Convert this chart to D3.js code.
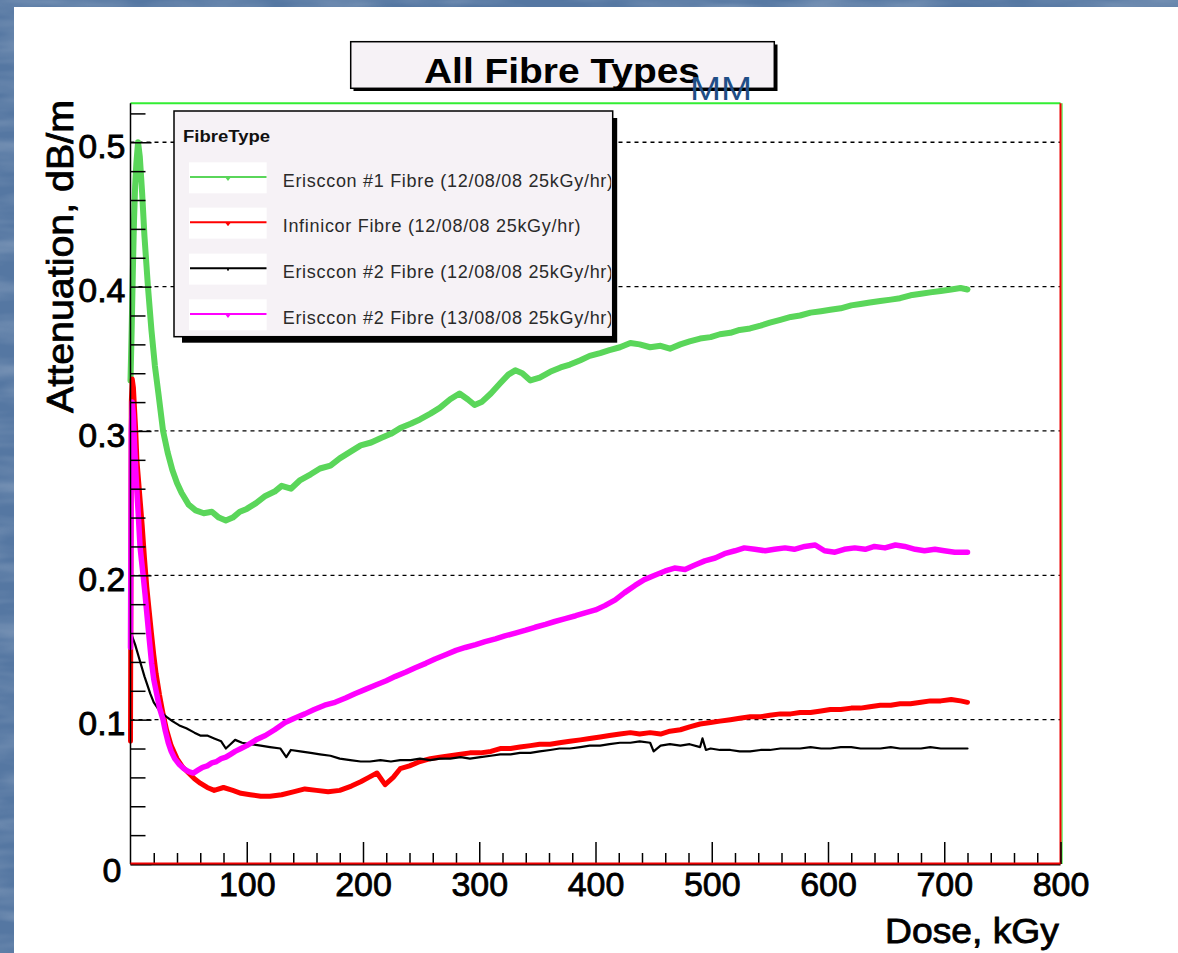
<!DOCTYPE html>
<html><head><meta charset="utf-8">
<script src="https://cdn.jsdelivr.net/npm/d3@7"></script>
<style>
html,body{margin:0;padding:0;background:#fff;}
svg{display:block;font-family:"Liberation Sans",Arial,Helvetica,sans-serif;}
</style></head>
<body><svg id="c" width="1178" height="953"></svg>
<script>
// ---------------- DATA ----------------
const chartTitle = "All Fibre Types";
const overlayText = "MM";
const xTitle = "Dose, kGy";
const yTitle = "Attenuation, dB/m";
const legendTitle = "FibreType";
const seriesNames = [
  "Erisccon #1 Fibre (12/08/08 25kGy/hr)",
  "Infinicor Fibre (12/08/08 25kGy/hr)",
  "Erisccon #2 Fibre (12/08/08 25kGy/hr)",
  "Erisccon #2 Fibre (13/08/08 25kGy/hr)"
];
const seriesColors = ["#5ad65a", "#ff0000", "#000000", "#ff00ff"];
const xMajorTicks = [100, 200, 300, 400, 500, 600, 700, 800];
const yMajorTicks = [0, 0.1, 0.2, 0.3, 0.4, 0.5];
const yGridValues = [0.1, 0.2, 0.3, 0.4, 0.5];

const green = [[0,0.335],[1,0.37],[2,0.41],[3,0.445],[4,0.47],[5,0.485],[6.5,0.50],[8,0.49],[10,0.465],[12,0.435],[15,0.40],[18,0.37],[21,0.345],[24,0.326],[28,0.30],[32,0.285],[36,0.273],[40,0.264],[44,0.257],[50,0.249],[56,0.245],[63,0.243],[70,0.244],[76,0.240],[82,0.238],[88,0.240],[94,0.244],[100,0.246],[108,0.250],[116,0.255],[124,0.258],[130,0.262],[138,0.260],[146,0.266],[155,0.270],[163,0.274],[172,0.276],[180,0.281],[190,0.286],[198,0.290],[207,0.292],[215,0.295],[224,0.298],[232,0.302],[241,0.305],[249,0.308],[258,0.312],[266,0.316],[275,0.322],[283,0.326],[290,0.322],[296,0.318],[302,0.320],[310,0.326],[318,0.333],[325,0.339],[331,0.342],[337,0.340],[344,0.335],[352,0.337],[361,0.341],[370,0.344],[378,0.346],[387,0.349],[395,0.352],[404,0.354],[412,0.356],[421,0.358],[430,0.361],[438,0.360],[447,0.358],[456,0.359],[464,0.357],[473,0.360],[481,0.362],[490,0.364],[499,0.365],[507,0.367],[516,0.368],[524,0.370],[533,0.371],[542,0.373],[550,0.375],[559,0.377],[568,0.379],[576,0.380],[585,0.382],[594,0.383],[602,0.384],[611,0.385],[620,0.387],[628,0.388],[636,0.389],[645,0.390],[654,0.391],[662,0.392],[671,0.394],[680,0.395],[688,0.396],[697,0.397],[706,0.398],[714,0.399],[720,0.398]];

const red = [[0,0.085],[0.7,0.32],[1.5,0.336],[2.5,0.33],[3.5,0.315],[4.5,0.30],[5.5,0.28],[7,0.265],[8.5,0.25],[10,0.235],[12,0.212],[14,0.192],[16,0.176],[18,0.160],[20,0.145],[22,0.132],[25,0.117],[28,0.104],[31,0.093],[35,0.082],[40,0.073],[45,0.067],[50,0.063],[55,0.059],[60,0.056],[66,0.053],[72,0.051],[80,0.053],[88,0.051],[95,0.049],[103,0.048],[112,0.047],[120,0.047],[130,0.048],[140,0.050],[150,0.052],[160,0.051],[170,0.050],[180,0.051],[190,0.054],[198,0.057],[205,0.060],[212,0.063],[219,0.055],[226,0.060],[232,0.066],[240,0.068],[249,0.071],[258,0.073],[266,0.074],[275,0.075],[284,0.076],[292,0.077],[301,0.077],[310,0.078],[318,0.080],[327,0.080],[335,0.081],[344,0.082],[352,0.083],[361,0.083],[369,0.084],[378,0.085],[387,0.086],[395,0.087],[404,0.088],[412,0.089],[421,0.090],[430,0.091],[438,0.090],[447,0.091],[456,0.090],[464,0.092],[473,0.093],[481,0.095],[490,0.097],[499,0.098],[507,0.099],[516,0.100],[524,0.101],[533,0.102],[542,0.102],[550,0.103],[559,0.104],[568,0.104],[576,0.105],[585,0.105],[594,0.106],[602,0.107],[611,0.107],[620,0.108],[628,0.108],[636,0.109],[645,0.110],[654,0.110],[662,0.111],[671,0.111],[680,0.112],[688,0.113],[697,0.113],[706,0.114],[714,0.113],[720,0.112]];

const black = [[0,0.161],[4,0.152],[8,0.141],[12,0.130],[17,0.118],[20,0.112],[25,0.106],[31,0.102],[36,0.099],[42,0.096],[48,0.094],[55,0.091],[60,0.089],[66,0.089],[72,0.087],[78,0.085],[82,0.080],[86,0.083],[90,0.086],[96,0.084],[103,0.083],[112,0.082],[120,0.081],[129,0.080],[134,0.074],[138,0.079],[146,0.078],[155,0.077],[163,0.076],[172,0.075],[180,0.073],[189,0.072],[198,0.071],[206,0.071],[215,0.072],[224,0.071],[232,0.072],[241,0.072],[249,0.073],[258,0.072],[266,0.073],[275,0.073],[284,0.074],[292,0.073],[301,0.074],[310,0.075],[318,0.076],[327,0.076],[335,0.077],[344,0.077],[352,0.078],[361,0.079],[369,0.080],[378,0.080],[387,0.081],[395,0.082],[404,0.082],[412,0.083],[421,0.084],[430,0.084],[438,0.085],[447,0.084],[450,0.078],[456,0.082],[464,0.083],[473,0.082],[481,0.083],[490,0.081],[492,0.087],[495,0.079],[499,0.080],[507,0.079],[516,0.079],[524,0.078],[533,0.078],[542,0.079],[550,0.079],[559,0.080],[568,0.080],[576,0.080],[585,0.081],[594,0.080],[602,0.080],[611,0.081],[620,0.081],[628,0.080],[636,0.080],[645,0.080],[654,0.081],[662,0.080],[671,0.080],[680,0.080],[688,0.081],[697,0.080],[706,0.080],[714,0.080],[720,0.080]];

const magenta = [[0,0.15],[0.7,0.30],[1.5,0.32],[2.5,0.31],[3.5,0.29],[5,0.265],[6.5,0.245],[8.2,0.22],[9.5,0.21],[11,0.199],[12.5,0.187],[14,0.174],[16,0.157],[18.2,0.139],[20,0.128],[22.5,0.118],[25,0.108],[28,0.100],[30,0.092],[32.5,0.084],[35,0.078],[38,0.073],[42,0.069],[46,0.066],[50,0.064],[54,0.063],[58,0.065],[62,0.067],[66,0.068],[70,0.070],[74,0.071],[78,0.073],[82,0.074],[86,0.076],[90,0.078],[95,0.080],[100,0.082],[108,0.086],[116,0.089],[124,0.093],[133,0.098],[141,0.101],[150,0.104],[158,0.107],[167,0.110],[176,0.112],[185,0.115],[193,0.118],[202,0.121],[211,0.124],[220,0.127],[228,0.130],[237,0.133],[245,0.136],[254,0.139],[262,0.142],[271,0.145],[280,0.148],[288,0.150],[297,0.152],[305,0.154],[314,0.156],[322,0.158],[331,0.160],[340,0.162],[348,0.164],[357,0.166],[365,0.168],[374,0.170],[383,0.172],[391,0.174],[400,0.176],[408,0.179],[417,0.183],[425,0.188],[434,0.193],[442,0.197],[451,0.200],[460,0.203],[468,0.205],[477,0.204],[485,0.207],[494,0.210],[503,0.212],[511,0.215],[520,0.217],[528,0.219],[537,0.218],[546,0.217],[554,0.218],[563,0.219],[571,0.218],[580,0.220],[589,0.221],[597,0.217],[606,0.216],[614,0.218],[623,0.219],[632,0.218],[640,0.220],[649,0.219],[658,0.221],[666,0.220],[675,0.218],[683,0.217],[692,0.218],[700,0.217],[709,0.216],[720,0.216]];

const seriesData = [green, red, black, magenta];
const seriesWidths = [6, 5, 2.2, 5.5];
const drawOrder = [0, 1, 2, 3];

// ---------------- LAYOUT ----------------
const svg = d3.select("#c");
const W = 1178, H = 953;
const x = d3.scaleLinear().domain([0, 800]).range([130.5, 1060.5]);
const y = d3.scaleLinear().domain([0, 0.527]).range([864, 103.3]);

// background: textured blue slide
const defs = svg.append("defs");
const f = defs.append("filter").attr("id","tex").attr("x",0).attr("y",0).attr("width","100%").attr("height","100%");
f.append("feTurbulence").attr("type","fractalNoise").attr("baseFrequency","0.01 0.05").attr("numOctaves",3).attr("seed",7);
f.append("feColorMatrix").attr("type","matrix").attr("values","0 0 0 0 1  0 0 0 0 1  0 0 0 0 1  0.9 0 0 0 -0.35");
svg.append("rect").attr("width",W).attr("height",H).attr("fill","#5577a2");
svg.append("rect").attr("width",W).attr("height",H).attr("filter","url(#tex)").attr("opacity",0.5);
// white canvas
svg.append("rect").attr("x",14).attr("y",7).attr("width",W-14).attr("height",H-7).attr("fill","#ffffff");

// gridlines
svg.append("g").selectAll("line").data(yGridValues).join("line")
  .attr("x1", x(0)).attr("x2", x(800))
  .attr("y1", d => y(d)).attr("y2", d => y(d))
  .attr("stroke","#000").attr("stroke-width",1.3).attr("stroke-dasharray","4,4");

// data lines
const line = d3.line().x(d => x(d[0])).y(d => y(d[1]));
const gData = svg.append("g");
drawOrder.forEach(i => {
  gData.append("path").datum(seriesData[i]).attr("d", line)
    .attr("fill","none").attr("stroke", seriesColors[i])
    .attr("stroke-width", seriesWidths[i])
    .attr("stroke-linejoin","round").attr("stroke-linecap","round");
});

// frame
svg.append("line").attr("x1",x(0)).attr("x2",x(800)).attr("y1",y(0.527)).attr("y2",y(0.527))
  .attr("stroke","#33ee33").attr("stroke-width",2);
svg.append("line").attr("x1",x(800)+1.5).attr("x2",x(800)+1.5).attr("y1",y(0.527)).attr("y2",y(0))
  .attr("stroke","#33ee33").attr("stroke-width",1.2);
svg.append("line").attr("x1",x(800)).attr("x2",x(800)).attr("y1",y(0.527)).attr("y2",y(0))
  .attr("stroke","#ee0000").attr("stroke-width",2);

// axes
const fmtY = d => d === 0 ? "0" : d3.format(".1f")(d);
const yMinor = d3.range(0, 0.53, 0.02).filter(v => Math.abs(v*10 - Math.round(v*10)) > 1e-6);
const xMinor = d3.range(0, 801, 20).filter(v => v % 100 !== 0);

const gy = svg.append("g").attr("transform", `translate(${x(0)},0)`);
gy.call(d3.axisLeft(y).tickValues(yMajorTicks).tickFormat(fmtY).tickSizeInner(-21).tickSizeOuter(0).tickPadding(5));
const gyMin = svg.append("g").attr("transform", `translate(${x(0)},0)`);
gyMin.call(d3.axisLeft(y).tickValues(yMinor).tickFormat("").tickSizeInner(-15).tickSizeOuter(0));
const gx = svg.append("g").attr("transform", `translate(0,${y(0)})`);
gx.call(d3.axisBottom(x).tickValues(xMajorTicks).tickFormat(d3.format("d")).tickSizeInner(-22).tickSizeOuter(0).tickPadding(8));
const gxMin = svg.append("g").attr("transform", `translate(0,${y(0)})`);
gxMin.call(d3.axisBottom(x).tickValues(xMinor).tickFormat("").tickSizeInner(-11).tickSizeOuter(0));
[gy, gyMin, gx, gxMin].forEach(g => {
  g.select(".domain").remove();
  g.selectAll(".tick line").attr("stroke","#000").attr("stroke-width",1.5);
  g.selectAll(".tick text").attr("fill","#000").attr("font-size",34)
    .attr("stroke","#000").attr("stroke-width",0.8)
    .attr("font-family",'"Liberation Sans",Arial,sans-serif');
});
gy.selectAll(".tick text").attr("dy","0.45em");
gy.selectAll(".tick text").filter(d => d === 0).attr("dy","0.52em").attr("x",-9);

// axis lines
svg.append("line").attr("x1",x(0)).attr("x2",x(0)).attr("y1",y(0.527)).attr("y2",y(0))
  .attr("stroke","#000").attr("stroke-width",1.5);
svg.append("line").attr("x1",x(0)).attr("x2",x(800)).attr("y1",y(0)+0.5).attr("y2",y(0)+0.5)
  .attr("stroke","#000").attr("stroke-width",2);
svg.append("line").attr("x1",x(0)).attr("x2",x(800)).attr("y1",y(0)-0.5).attr("y2",y(0)-0.5)
  .attr("stroke","#ee0000").attr("stroke-width",2);

// axis titles
svg.append("text").attr("x",885).attr("y",943).attr("font-size",35)
  .attr("stroke","#000").attr("stroke-width",0.8)
  .attr("textLength",174).attr("lengthAdjust","spacingAndGlyphs").attr("fill","#000").text(xTitle);
svg.append("text").attr("transform","translate(73,100) rotate(-90)").attr("text-anchor","end")
  .attr("stroke","#000").attr("stroke-width",0.8)
  .attr("font-size",37).attr("fill","#000").attr("textLength",313).attr("lengthAdjust","spacingAndGlyphs").text(yTitle);

// title box
svg.append("rect").attr("x",353.5).attr("y",44.5).attr("width",424).attr("height",46.5).attr("fill","#000");
svg.append("rect").attr("x",350.7).attr("y",41.7).attr("width",423.6).attr("height",46.6)
  .attr("fill","#f6f2f6").attr("stroke","#000").attr("stroke-width",1.5);
svg.append("text").attr("x",424).attr("y",83).attr("font-size",35).attr("font-weight","bold")
  .attr("textLength",276).attr("lengthAdjust","spacingAndGlyphs").attr("fill","#000").text(chartTitle);
svg.append("text").attr("x",690).attr("y",100).attr("font-size",34).attr("fill","#1f4e86")
  .attr("textLength",62).attr("lengthAdjust","spacingAndGlyphs").text(overlayText);

// legend
const L = {x0:174, y0:111, x1:612.7, y1:336.7};
svg.append("rect").attr("x",L.x0+8).attr("y",L.y0+7).attr("width",L.x1-L.x0-3.5).attr("height",L.y1-L.y0-1)
  .attr("fill","#000");
svg.append("rect").attr("x",L.x0).attr("y",L.y0).attr("width",L.x1-L.x0).attr("height",L.y1-L.y0)
  .attr("fill","#f6f2f6").attr("stroke","#000").attr("stroke-width",1.5);
defs.append("clipPath").attr("id","legclip").append("rect")
  .attr("x",L.x0).attr("y",L.y0).attr("width",L.x1-L.x0-1.5).attr("height",L.y1-L.y0);
const gL = svg.append("g").attr("clip-path","url(#legclip)");
gL.append("text").attr("x",183).attr("y",142.3).attr("font-size",16).attr("font-weight","bold")
  .attr("textLength",87).attr("lengthAdjust","spacingAndGlyphs").attr("fill","#111").text(legendTitle);
const rowY = [177, 222.3, 268.3, 314];
seriesNames.forEach((name, i) => {
  const cy = rowY[i];
  gL.append("rect").attr("x",189).attr("y",cy-14.7).attr("width",77.7).attr("height",31).attr("fill","#fff");
  gL.append("line").attr("x1",190).attr("x2",266.5).attr("y1",cy).attr("y2",cy)
    .attr("stroke",seriesColors[i]).attr("stroke-width",2);
  if (i === 2) {
    gL.append("circle").attr("cx",228).attr("cy",cy+1.5).attr("r",1).attr("fill","#000");
  } else {
    gL.append("path").attr("d",`M${225},${cy} L${231},${cy} L${228},${cy+4} Z`).attr("fill",seriesColors[i]);
  }
  gL.append("text").attr("x",282.7).attr("y",cy+9.5).attr("font-size",18).attr("letter-spacing","0.7px")
    .attr("fill","#2a2a2a").text(name);
});
</script></body></html>
